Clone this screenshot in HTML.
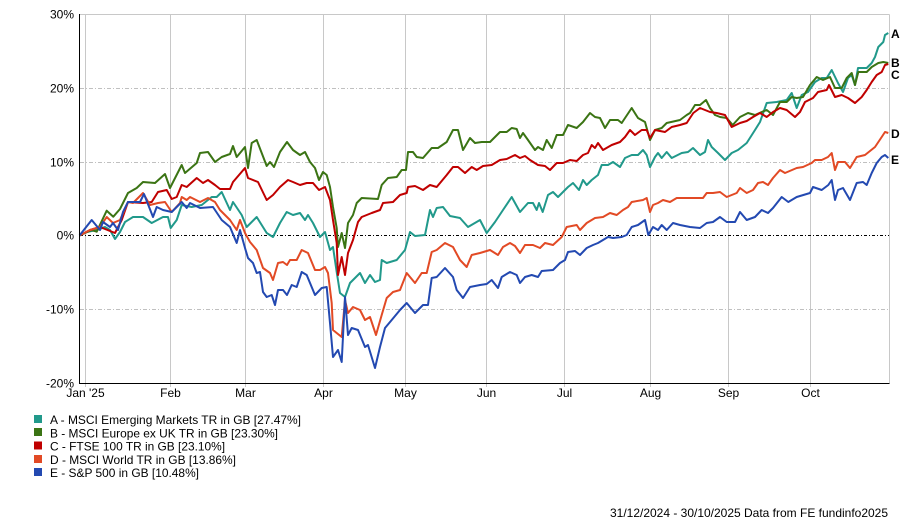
<!DOCTYPE html>
<html><head><meta charset="utf-8"><style>
html,body{margin:0;padding:0;background:#fff;}
svg{display:block;font-family:"Liberation Sans",Arial,sans-serif;}
</style></head><body>
<svg width="900" height="518" viewBox="0 0 900 518" xmlns="http://www.w3.org/2000/svg">
<rect width="900" height="518" fill="#fff"/>
<!-- grid -->
<g stroke="#c8c8c8" stroke-width="1" fill="none">
<line x1="79" y1="14.5" x2="889.5" y2="14.5"/>
<line x1="889.5" y1="14.5" x2="889.5" y2="383.5"/>
<line x1="85.5" y1="14.5" x2="85.5" y2="387"/>
<line x1="170.5" y1="14.5" x2="170.5" y2="387"/>
<line x1="245.5" y1="14.5" x2="245.5" y2="387"/>
<line x1="323.5" y1="14.5" x2="323.5" y2="387"/>
<line x1="405.5" y1="14.5" x2="405.5" y2="387"/>
<line x1="486.5" y1="14.5" x2="486.5" y2="387"/>
<line x1="564.5" y1="14.5" x2="564.5" y2="387"/>
<line x1="650.5" y1="14.5" x2="650.5" y2="387"/>
<line x1="728.5" y1="14.5" x2="728.5" y2="387"/>
<line x1="810.5" y1="14.5" x2="810.5" y2="387"/>
</g>
<g stroke="#c0c0c0" stroke-width="1" stroke-dasharray="4,2,1,2" fill="none">
<line x1="80" y1="88.5" x2="889" y2="88.5"/>
<line x1="80" y1="162.5" x2="889" y2="162.5"/>
<line x1="80" y1="309.5" x2="889" y2="309.5"/>
</g>
<line x1="80" y1="235.5" x2="889" y2="235.5" stroke="#000" stroke-width="1" stroke-dasharray="3,2,1,2"/>
<!-- series -->
<g fill="none" stroke-width="2" stroke-linejoin="round">
<polyline stroke="#21998B" points="79.5,235.5 86.7,232 96.7,230 105,227 110,230 115,239 120,232 125,222 133,217 143,217 151.7,223 163,217 168,217 170.7,228 176.7,220 181.7,205 191.7,207 201.7,205 211.7,197 216.7,197 221.7,192 230,210 233,202 241.7,215 246.7,227 256.7,217 266.7,233 273,237 280,223 286.7,212 293,215 300,213 305,220 308,215 313,223 320,237 325,232 330,250 333,247 336.7,272 340,293 345,297 350,283 360,273 365,283 370,275 375,282 380,280 381.7,260 386.7,263 396.7,260 405,250 410,232 415,236 425,235 430,210 433,217 436.7,208 443,207 450,216 460,218 468,227 480,220 486.7,233 495,222 503,210 511.7,197 520,212 528,203 533,203 536.7,210 539,203 542.7,212 548,195 553,192 558,197 563,192 568,187 573,183 579,190 583,180 586.7,185 591.7,180 598,175 601.7,165 608,165 613,162 620,167 625,158 631.7,155 638,155 643,150 646.7,155 650,167 655,157 658,153 661.7,158 666.7,152 671.7,158 681.7,153 688,152 693,148 700,155 705,152 708,140 711.7,147 718,153 725,160 731.7,153 738,150 746.7,143 755,130 760,122 766.7,103 776.7,102 786.7,100 791.7,93 796.7,108 801.7,95 808,92 815,82 821.7,78 826.7,78 831.7,70 838,83 843,92 848,78 851.7,75 855,85 858,68 866.7,68 871.7,63 875,57 878.3,47 883.3,42 885,35 888.3,33"/>
<polyline stroke="#3B7414" points="79.5,235.5 91.7,230 96.7,231.7 106.7,210.7 113.3,216.7 120,209 128,193 136.7,188 143,182 155,183 165,174 170,188 181.7,165 185,173 196.7,163 200,153 208,152 215,162 221.7,157 230,154 233,146 236.7,157 245,147 248,168 251.7,143 256.7,140 266.7,166 270,162 274,167 280,152 287,142 293,150 300,155 305,152 310,162 315,168 319,180 323,172 326.7,175 330,187 333,207 336.7,228 338,247 341.7,233 345,248 348,223 353,215 356.7,203 361.7,198 378,199 381.7,185 388,178 396.7,177 401.7,170 406,170 408,152 413,152 416.7,157 423,158 431.7,148 438,148 446.7,142 453,130 458,130 463,150 470,138 475,143 481.7,142 490,142 500,132 506.7,132 511.7,128 516.7,129 520,138 523,133 528,140 535,150 538,147 543,150 546.7,140 551.7,148 556.7,135 563,135 568,125 576.7,128 583,122 590,113 595,117 600,118 605,128 610,120 618,120 621.7,123 631.7,108 638,118 645,122 650,140 655,130 661.7,128 666.7,123 680,120 686.7,115 690,113 695,105 700,105 706,100 710,108 715,115 720,117 726.7,118 732.7,125 740,117 748,113 755,115 761.7,112 766.7,110 773,115 780,102 786.7,102 791.7,97 796.7,98 803,97 810,85 816.7,77 823,80 830,77 835,88 841.7,88 846.7,78 851.7,73 855,85 858.3,72 866.7,72 871.7,67 878.3,63 883.3,62 888.3,63"/>
<polyline stroke="#C00000" points="79.5,235.5 90,230 100,227 115,233 121.7,220 128,202 143,203 151.7,202 158,192 166.7,190 171.7,199 176.7,197 181.7,185 186.7,187 196.7,178 203,183 208,180 215,185 220,189 230,189 233,182 245,168 248,178 258,182 266.7,200 273,195 280,187 288,180 293,182 300,185 306.7,183 313,183 319,190 325,187 330,200 333,220 336.7,243 338,275 341.7,257 345,275 348,253 353,240 358,222 361.7,217 371.7,213 380,210 383,203 393,202 400,195 406.7,193 408,187 415,186 423,190 430,185 436.7,187 446.7,175 453,167 458,167 465,173 471.7,167 476.7,170 483,166 491.7,165 500,160 506.7,159 515,155 520,158 525,156 530,160 538,165 545,166 550,170 556.7,163 563,163 570,160 576.7,161 583,155 588,153 591.7,145 595,148 598,143 603,150 611.7,145 620,142 625,137 630,130 635,135 641.7,130 646.7,130 650,138 655,130 665,132 671.7,127 680,125 686.7,123 693.3,113 700,108 710,112 716.7,113 725,115 731.7,127 740,123 746.7,121 753,117 760,113 766.7,117 773,112 780,108 786.7,110 795,117 800,112 805,102 813,98 818,92 826.7,90 829,85 835,97 841.7,95 848,98 855,103 861.7,97 866.7,90 871.7,82 876.7,75 881.7,72 885,65 888.3,64"/>
<polyline stroke="#E24A25" points="79.5,235.5 90,230 100,227 106.7,217 113,223 120,220 128,202 133,203 143,193 150,205 158,203 165,202 171.7,212 180,203 181.7,197 186.7,200 190,197 200,202 208,198 215,202 220,210 230,220 236.7,230 240,220 245,233 250,242 256.7,250 263,268 270,273 273,280 278,263 283,262 287,265 290,260 296.7,260 301.7,250 308,253 315,270 320,270 325,267 328,273 331.7,303 333,330 336.7,333 341.7,337 345,300 348,313 353,307 360,310 365,320 370,317 376,335 381.7,315 386.7,298 393,292 400,290 406.7,273 415,283 421.7,273 426.7,273 431.7,252 436.7,250 445,243 453,247 460,260 466.7,267 471.7,255 480,253 490,250 498,255 503,247 510,243 515,246 520,253 525,245 533,245 540,248 545,243 553,245 561.7,237 566.7,227 576.7,225 580,230 586.7,223 595,218 603,217 610,213 616.7,215 623,210 628,207 631.7,202 643,200 646.7,198 650,212 653,205 658,203 663,200 670,202 676.7,198 696.7,198 703,198 706.7,193 713,193 720,192 726.7,197 736.7,193 740,188 746.7,193 753,190 758,183 763,182 768,185 773,178 780,170 785,173 796.7,168 803,167 811.7,163 815,160 821.7,160 828,157 831.7,153 835,170 838,162 845,162 850,168 856.7,157 865,155 875,147 881.7,137 885,132 888.3,133"/>
<polyline stroke="#2349B1" points="79.5,235.5 91.7,220 100,230 103,222 110,227 113,223 118,230 123,212 128,202 140,202 144,194 153,217 156.7,207 163,210 171.7,212 181.7,202 186.7,208 190,203 200,208 213,207 221.7,220 230,227 236.7,243 240,230 245,248 248,258 253,263 256.7,273 260,272 263,292 266.7,297 271.7,295 275,305 278,290 283,290 287,295 291.7,285 296.7,287 301.7,272 306.7,275 315,295 321.7,288 326.7,287 330,323 333,357 338,350 341.7,362 345,297 348,335 351.7,328 358,330 365,347 368,345 375,368 380,347 385,328 391.7,320 400,310 406.7,303 415,313 423,305 428,305 431.7,278 436.7,277 445,268 453,277 456.7,290 463,298 470,287 480,285 486.7,284 491.7,280 498,288 501.7,277 510,272 516.7,275 520,283 525,277 531.7,275 538,277 541.7,271 553,270 560,263 565,260 568,252 575,251 580,255 586.7,248 593,245 598,243 603,240 608,237 613,238 621.7,237 626.7,235 631.7,227 638,225 645,220 648.3,235 653,227 658,230 661.7,225 666.7,230 673,223 680,225 690,227 700,228 706.7,223 713,222 720,217 726.7,222 735,222 740,212 746.7,220 755,217 761.7,210 768,213 773,208 781.7,197 788.3,202 796.7,197 810,193 813,187 821.7,190 828.3,185 831.7,180 835,200 838,190 843,188 850,200 856.7,183 863,182 866.7,185 871.7,173 876.7,163 881.7,157 885,155 888.3,158"/>
</g>
<!-- axes -->
<line x1="79.5" y1="14" x2="79.5" y2="384" stroke="#000" stroke-width="1"/>
<line x1="79" y1="383.5" x2="889.5" y2="383.5" stroke="#000" stroke-width="1"/>
<!-- y labels -->
<g font-size="12" fill="#000" text-anchor="end">
<text x="74" y="18.5">30%</text>
<text x="74" y="92.5">20%</text>
<text x="74" y="166.5">10%</text>
<text x="74" y="239.5">0%</text>
<text x="74" y="313.5">-10%</text>
<text x="74" y="387.5">-20%</text>
</g>
<!-- x labels -->
<g font-size="12" fill="#000" text-anchor="middle">
<text x="85.5" y="397">Jan '25</text>
<text x="170.5" y="397">Feb</text>
<text x="245.5" y="397">Mar</text>
<text x="323.5" y="397">Apr</text>
<text x="405.5" y="397">May</text>
<text x="486.5" y="397">Jun</text>
<text x="564.5" y="397">Jul</text>
<text x="650.5" y="397">Aug</text>
<text x="728.5" y="397">Sep</text>
<text x="810.5" y="397">Oct</text>
</g>
<!-- end labels -->
<g font-size="12" font-weight="bold" fill="#000">
<text x="891" y="38">A</text>
<text x="891" y="67">B</text>
<text x="891" y="79">C</text>
<text x="891" y="138">D</text>
<text x="891" y="164">E</text>
</g>
<!-- legend -->
<rect x="34" y="415" width="8" height="8" fill="#21998B"/>
<rect x="34" y="428" width="8" height="8" fill="#3B7414"/>
<rect x="34" y="441.5" width="8" height="8" fill="#C00000"/>
<rect x="34" y="455" width="8" height="8" fill="#E24A25"/>
<rect x="34" y="468" width="8" height="8" fill="#2349B1"/>
<g font-size="12" fill="#000">
<text x="50" y="424" textLength="251" lengthAdjust="spacingAndGlyphs">A - MSCI Emerging Markets TR in GB [27.47%]</text>
<text x="50" y="437.5" textLength="228" lengthAdjust="spacingAndGlyphs">B - MSCI Europe ex UK TR in GB [23.30%]</text>
<text x="50" y="450.5" textLength="175" lengthAdjust="spacingAndGlyphs">C - FTSE 100 TR in GB [23.10%]</text>
<text x="50" y="464" textLength="186" lengthAdjust="spacingAndGlyphs">D - MSCI World TR in GB [13.86%]</text>
<text x="50" y="477" textLength="149" lengthAdjust="spacingAndGlyphs">E - S&amp;P 500 in GB [10.48%]</text>
</g>
<text x="610" y="517" font-size="12" fill="#000" textLength="278" lengthAdjust="spacingAndGlyphs">31/12/2024 - 30/10/2025 Data from FE fundinfo2025</text>
</svg>
</body></html>
